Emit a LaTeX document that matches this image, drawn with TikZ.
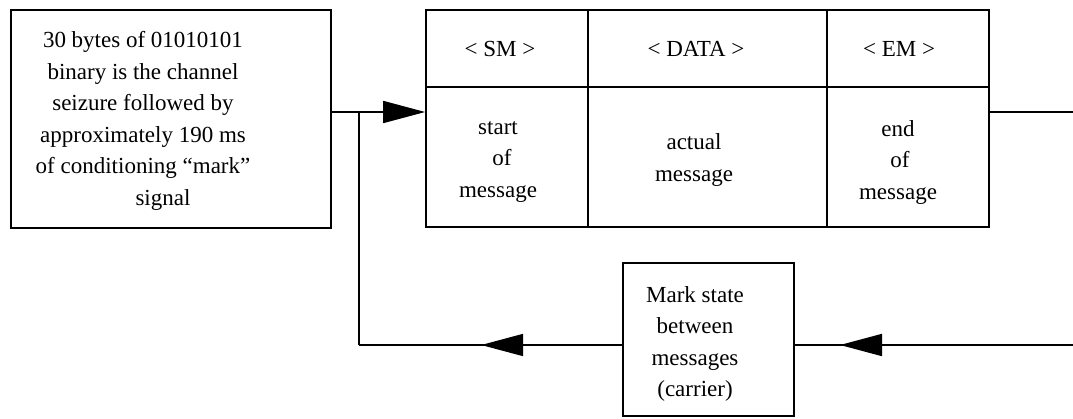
\documentclass[tikz,border=0pt]{standalone}
\usepackage{fontspec}
\setmainfont{Liberation Serif}
\usetikzlibrary{arrows.meta,decorations.markings}
\begin{document}
\begin{tikzpicture}[x=1pt,y=-1pt,line width=1.7pt,
  cell/.style={draw,rectangle,inner sep=0pt,line width=1.7pt},
  txt/.style={align=center,inner sep=0pt,font=\fontsize{23}{31.5}\selectfont},
  bigtip/.style={-{Triangle[length=42pt,width=22pt]}},
  midtip/.style={postaction={decorate},decoration={markings,
     mark=at position #1 with {\arrow{Triangle[length=42pt,width=22pt]}}}}]
\useasboundingbox (0,0) rectangle (1073,418);
% left box
\node[cell,minimum width=320pt,minimum height=218pt] (seize) at (171,119) {};
\node[txt] (seizetxt) at (143,121) {30 bytes of 01010101\\binary is the channel\\seizure followed by\\approximately 190 ms\\of conditioning “mark”\\\hspace*{40pt}signal};
% table cells
\node[cell,minimum width=162pt,minimum height=77pt] (smh) at (507,48.5) {};
\node[cell,minimum width=239pt,minimum height=77pt] (datah) at (707.5,48.5) {};
\node[cell,minimum width=162pt,minimum height=77pt] (emh) at (908,48.5) {};
\node[cell,minimum width=162pt,minimum height=140pt] (smb) at (507,157) {};
\node[cell,minimum width=239pt,minimum height=140pt] (datab) at (707.5,157) {};
\node[cell,minimum width=162pt,minimum height=140pt] (emb) at (908,157) {};
\node[txt] (smht) at (500,48.5) {< SM >};
\node[txt] (dataht) at (696,48.5) {< DATA >};
\node[txt] (emht) at (899,48.5) {< EM >};
\node[txt] (smbt) at (498,162) {start\\\hspace*{8pt}of\\message};
\node[txt] (databt) at (694,160) {actual\\message};
\node[txt] (embt) at (898,162) {end\\\hspace*{4pt}of\\message};
% mark state box
\node[cell,minimum width=171pt,minimum height=153pt] (mark) at (708.5,339.5) {};
\node[txt] (marktxt) at (695,344) {Mark state\\between\\messages\\(carrier)};
% connectors
\coordinate (j) at (359,112);
\coordinate (r1) at (1073,112);
\coordinate (r2) at (1073,345);
\coordinate (c) at (359,345);
\draw[bigtip] (seize.east |- j) -- (smb.west |- j);
\draw (j) -- (c);
\draw (emb.east |- r1) -- (r1);
\draw[midtip=233pt] (r2) -- (mark.east |- r2);
\draw[midtip=141pt] (mark.west |- r2) -- (c);
\end{tikzpicture}
\end{document}
